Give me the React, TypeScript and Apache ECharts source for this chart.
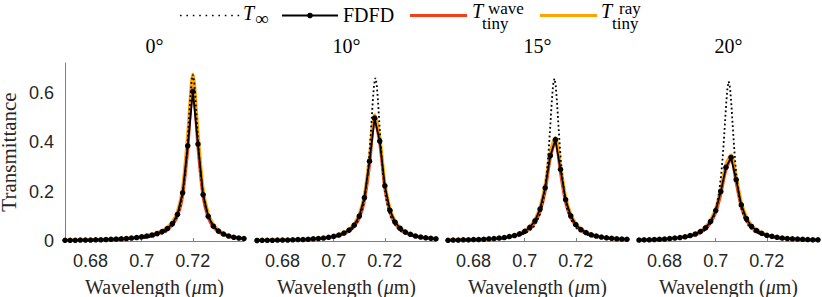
import React, { useEffect, useRef } from "react";
import * as echarts from "echarts";

// ---------- data ----------
const angles = ["0°", "10°", "15°", "20°"];
const xTicks = [0.68, 0.7, 0.72];
const yTicks = [0, 0.2, 0.4, 0.6];

const wavelength = [
  0.670, 0.672, 0.674, 0.676, 0.678, 0.680, 0.682, 0.684, 0.686, 0.688,
  0.690, 0.692, 0.694, 0.696, 0.698, 0.700, 0.702, 0.704, 0.706, 0.708,
  0.710, 0.712, 0.714, 0.716, 0.718, 0.720, 0.722, 0.724, 0.726, 0.728,
  0.730, 0.732, 0.734, 0.736, 0.738, 0.740,
];

// FDFD (dots)
const fdfd0 = [0.003,0.003,0.003,0.004,0.004,0.004,0.005,0.005,0.006,0.007,0.008,0.009,0.010,0.012,0.014,0.017,0.020,0.024,0.030,0.038,0.050,0.070,0.108,0.195,0.385,0.605,0.392,0.188,0.100,0.060,0.040,0.028,0.020,0.015,0.012,0.010];
const fdfd10 = [0.002,0.003,0.003,0.003,0.004,0.004,0.004,0.005,0.006,0.006,0.007,0.009,0.010,0.012,0.015,0.019,0.024,0.032,0.044,0.064,0.101,0.175,0.323,0.497,0.404,0.223,0.124,0.076,0.051,0.036,0.027,0.020,0.016,0.013,0.011,0.009];
const fdfd15 = [0.003,0.004,0.004,0.005,0.005,0.006,0.006,0.007,0.009,0.010,0.012,0.014,0.018,0.022,0.029,0.039,0.055,0.081,0.129,0.215,0.345,0.410,0.290,0.167,0.102,0.066,0.046,0.034,0.025,0.020,0.016,0.013,0.011,0.009,0.008,0.007];
const fdfd20 = [0.004,0.005,0.005,0.006,0.007,0.008,0.010,0.012,0.014,0.017,0.022,0.028,0.038,0.053,0.079,0.123,0.200,0.298,0.338,0.248,0.146,0.090,0.059,0.042,0.031,0.023,0.019,0.015,0.012,0.010,0.009,0.008,0.007,0.006,0.005,0.005];

// T_tiny^wave (red)
const wave0 = [0.003,0.003,0.003,0.003,0.004,0.004,0.004,0.005,0.005,0.006,0.007,0.008,0.009,0.011,0.013,0.015,0.018,0.022,0.027,0.035,0.046,0.065,0.100,0.182,0.370,0.630,0.378,0.178,0.094,0.056,0.037,0.026,0.019,0.014,0.011,0.009];
const wave10 = [0.002,0.002,0.003,0.003,0.003,0.004,0.004,0.005,0.005,0.006,0.007,0.008,0.009,0.011,0.014,0.017,0.022,0.029,0.040,0.058,0.092,0.162,0.305,0.490,0.395,0.210,0.115,0.070,0.047,0.033,0.025,0.019,0.015,0.012,0.010,0.008];
const wave15 = [0.003,0.003,0.004,0.004,0.005,0.005,0.006,0.007,0.008,0.009,0.011,0.013,0.016,0.020,0.026,0.035,0.050,0.074,0.118,0.200,0.335,0.402,0.275,0.155,0.094,0.061,0.042,0.031,0.023,0.018,0.015,0.012,0.010,0.008,0.007,0.006];
const wave20 = [0.004,0.004,0.005,0.006,0.007,0.008,0.009,0.011,0.013,0.016,0.020,0.026,0.035,0.049,0.073,0.115,0.190,0.288,0.330,0.236,0.137,0.084,0.055,0.039,0.029,0.022,0.017,0.014,0.011,0.010,0.008,0.007,0.006,0.005,0.005,0.004];

// T_tiny^ray (orange)
const ray0 = [0.003,0.003,0.004,0.004,0.005,0.005,0.005,0.006,0.007,0.008,0.009,0.010,0.011,0.013,0.016,0.019,0.022,0.027,0.033,0.042,0.055,0.077,0.119,0.215,0.430,0.675,0.437,0.210,0.112,0.067,0.045,0.031,0.022,0.017,0.013,0.011];
const ray10 = [0.003,0.003,0.003,0.004,0.004,0.004,0.005,0.005,0.006,0.007,0.008,0.009,0.011,0.013,0.016,0.020,0.026,0.034,0.047,0.069,0.108,0.186,0.340,0.510,0.420,0.235,0.131,0.081,0.054,0.039,0.029,0.022,0.017,0.014,0.012,0.010];
const ray15 = [0.004,0.004,0.004,0.005,0.006,0.006,0.007,0.008,0.009,0.011,0.013,0.015,0.019,0.024,0.031,0.042,0.059,0.087,0.138,0.228,0.360,0.418,0.305,0.178,0.109,0.071,0.049,0.036,0.027,0.021,0.017,0.014,0.012,0.010,0.009,0.008];
const ray20 = [0.005,0.005,0.006,0.007,0.008,0.009,0.011,0.013,0.015,0.019,0.024,0.030,0.041,0.057,0.085,0.131,0.211,0.310,0.347,0.262,0.156,0.097,0.064,0.045,0.033,0.025,0.020,0.016,0.013,0.011,0.010,0.008,0.007,0.006,0.006,0.005];

// T_inf (dotted), each with its own wavelength samples
const tinfX0 = [0.670,0.680,0.690,0.700,0.706,0.710,0.712,0.714,0.715,0.716,0.717,0.7175,0.718,0.7185,0.719,0.7195,0.720,0.7205,0.721,0.7215,0.722,0.7225,0.723,0.724,0.725,0.726,0.728,0.730,0.734,0.740];
const tinfY0 = [0.0017,0.0026,0.0046,0.0104,0.021,0.040,0.060,0.100,0.135,0.189,0.276,0.337,0.411,0.495,0.580,0.647,0.673,0.647,0.580,0.495,0.411,0.337,0.276,0.189,0.135,0.100,0.060,0.040,0.021,0.0104];
const tinfX10 = [0.670,0.680,0.690,0.700,0.7063,0.7083,0.7103,0.7113,0.7123,0.7133,0.7138,0.7143,0.7148,0.7153,0.7158,0.7163,0.7168,0.7173,0.7178,0.7183,0.7188,0.7193,0.7203,0.7213,0.7223,0.7243,0.7263,0.7303,0.740];
const tinfY10 = [0.0019,0.0031,0.0059,0.0152,0.039,0.059,0.098,0.132,0.185,0.271,0.330,0.403,0.485,0.569,0.635,0.660,0.635,0.569,0.485,0.403,0.330,0.271,0.185,0.132,0.098,0.059,0.039,0.020,0.0073];
const tinfX15 = [0.670,0.680,0.690,0.6976,0.7016,0.7036,0.7056,0.7066,0.7076,0.7086,0.7091,0.7096,0.7101,0.7106,0.7111,0.7116,0.7121,0.7126,0.7131,0.7136,0.7141,0.7146,0.7156,0.7166,0.7176,0.7196,0.7216,0.7256,0.7316,0.740];
const tinfY15 = [0.0024,0.0041,0.0087,0.020,0.039,0.058,0.097,0.131,0.185,0.269,0.329,0.401,0.483,0.566,0.632,0.657,0.632,0.566,0.483,0.401,0.329,0.269,0.185,0.131,0.097,0.058,0.039,0.020,0.0101,0.0051];
const tinfX20 = [0.670,0.680,0.690,0.6951,0.6971,0.6991,0.7001,0.7011,0.7021,0.7026,0.7031,0.7036,0.7041,0.7046,0.7051,0.7056,0.7061,0.7066,0.7071,0.7076,0.7081,0.7091,0.7101,0.7111,0.7131,0.7151,0.7191,0.7251,0.740];
const tinfY20 = [0.0033,0.0063,0.0172,0.038,0.057,0.095,0.129,0.181,0.264,0.323,0.393,0.474,0.556,0.620,0.645,0.620,0.556,0.474,0.393,0.323,0.264,0.181,0.129,0.095,0.057,0.038,0.020,0.0099,0.0033];

const fdfdAll = [fdfd0, fdfd10, fdfd15, fdfd20];
const waveAll = [wave0, wave10, wave15, wave20];
const rayAll = [ray0, ray10, ray15, ray20];
const tinfXAll = [tinfX0, tinfX10, tinfX15, tinfX20];
const tinfYAll = [tinfY0, tinfY10, tinfY15, tinfY20];

// ---------- style ----------
const SERIF = "Liberation Serif";
const SANS = "Liberation Sans";
const RED = "#F2401B";
const ORANGE = "#FFA300";
const AXIS = "#808080";
const TXT = "#262626";

const gridLefts = [65, 257, 448, 639];
const GRID_W = 179;
const GRID_TOP = 63;
const GRID_H = 178;

const zip = (xs: number[], ys: number[]) => xs.map((x, i) => [x, ys[i]]);

function buildOption() {
  const grid = gridLefts.map((l) => ({
    left: l,
    top: GRID_TOP,
    width: GRID_W,
    height: GRID_H,
    containLabel: false,
    outerBoundsMode: "none",
  }));

  const xAxis = gridLefts.map((_, i) => ({
    type: "value",
    gridIndex: i,
    min: 0.67,
    max: 0.74,
    axisLine: { show: true, onZero: false, lineStyle: { color: AXIS, width: 1 } },
    axisTick: { show: true, inside: true, length: 3, customValues: xTicks, lineStyle: { color: AXIS } },
    axisLabel: {
      customValues: xTicks,
      formatter: (v: number) => String(v),
      fontFamily: SANS,
      fontSize: 18,
      color: TXT,
      margin: 11,
    },
    splitLine: { show: false },
    name: "Wavelength ({i|μ}m)",
    nameLocation: "middle",
    nameGap: 36,
    nameTextStyle: {
      fontFamily: SERIF,
      fontSize: 20,
      color: TXT,
      rich: { i: { fontFamily: SERIF, fontSize: 20, fontStyle: "italic", color: TXT } },
    },
  }));

  const yAxis = gridLefts.map((_, i) => ({
    type: "value",
    gridIndex: i,
    min: 0,
    max: 0.72,
    show: i === 0,
    axisLine: { show: true, lineStyle: { color: AXIS, width: 1 } },
    axisTick: { show: false },
    axisLabel: {
      customValues: yTicks,
      formatter: (v: number) => String(v),
      fontFamily: SANS,
      fontSize: 18,
      color: TXT,
      margin: 11,
    },
    splitLine: { show: false },
    name: i === 0 ? "Transmittance" : "",
    nameLocation: "middle",
    nameGap: 46,
    nameTextStyle: { fontFamily: SERIF, fontSize: 21, color: TXT },
  }));

  const series: any[] = [];
  for (let i = 0; i < 4; i++) {
    series.push({
      type: "line",
      name: "wave",
      xAxisIndex: i,
      yAxisIndex: i,
      data: zip(wavelength, waveAll[i]),
      smooth: 0.3,
      showSymbol: false,
      lineStyle: { color: RED, width: 3 },
      z: 2,
      silent: true,
    });
    series.push({
      type: "line",
      name: "ray",
      xAxisIndex: i,
      yAxisIndex: i,
      data: zip(wavelength, rayAll[i]),
      smooth: 0.3,
      showSymbol: false,
      lineStyle: { color: ORANGE, width: 3.2 },
      z: 3,
      silent: true,
    });
    series.push({
      type: "line",
      name: "FDFD",
      xAxisIndex: i,
      yAxisIndex: i,
      data: zip(wavelength, fdfdAll[i]),
      symbol: "circle",
      symbolSize: 5.5,
      showSymbol: true,
      showAllSymbol: true,
      itemStyle: { color: "#000" },
      lineStyle: { color: "#000", width: 1.8 },
      z: 4,
      silent: true,
    });
    series.push({
      type: "line",
      name: "Tinf",
      xAxisIndex: i,
      yAxisIndex: i,
      data: zip(tinfXAll[i], tinfYAll[i]),
      showSymbol: false,
      lineStyle: { color: "#000", width: 1.8, type: [1.8, 2.6] },
      z: 5,
      silent: true,
    });
  }

  const t = (text: string, x: number, y: number, size: number, italic = false, align = "left") => ({
    type: "text",
    x,
    y,
    silent: true,
    style: {
      text,
      fontFamily: SERIF,
      fontSize: size,
      fontStyle: italic ? "italic" : "normal",
      fill: "#000",
      align,
      verticalAlign: "middle",
    },
  });

  const graphic: any[] = [
    // legend
    { type: "line", silent: true, shape: { x1: 180, y1: 15.5, x2: 242, y2: 15.5 }, style: { stroke: "#000", lineWidth: 1.6, lineDash: [1.6, 4.8] } },
    t("T", 243, 13, 20, true),
    t("∞", 255, 18.5, 19),
    { type: "line", silent: true, shape: { x1: 282, y1: 15.5, x2: 338, y2: 15.5 }, style: { stroke: "#000", lineWidth: 1.8 } },
    { type: "circle", silent: true, shape: { cx: 310, cy: 15.5, r: 2.8 }, style: { fill: "#000" } },
    t("FDFD", 343, 14.5, 20),
    { type: "line", silent: true, shape: { x1: 410, y1: 15.5, x2: 467, y2: 15.5 }, style: { stroke: RED, lineWidth: 3 } },
    t("T", 472, 11, 20, true),
    t("wave", 488, 8, 17),
    t("tiny", 482, 23, 17),
    { type: "line", silent: true, shape: { x1: 540, y1: 15.5, x2: 597, y2: 15.5 }, style: { stroke: ORANGE, lineWidth: 3.2 } },
    t("T", 601, 11, 20, true),
    t("ray", 619, 8, 17),
    t("tiny", 612, 23, 17),
  ];
  // panel titles
  angles.forEach((a, i) => {
    graphic.push(t(a, gridLefts[i] + GRID_W / 2, 46, 20, false, "center"));
  });

  return {
    animation: false,
    backgroundColor: "#fff",
    grid,
    xAxis,
    yAxis,
    series,
    graphic,
  };
}

export default function App() {
  const ref = useRef<HTMLDivElement>(null);
  useEffect(() => {
    if (!ref.current) return;
    const chart = echarts.init(ref.current, null, { renderer: "svg" });
    chart.setOption(buildOption() as any);
    return () => chart.dispose();
  }, []);
  return (
    <div
      ref={ref}
      style={{ position: "absolute", left: 0, top: 0, width: 822, height: 297 }}
    />
  );
}
